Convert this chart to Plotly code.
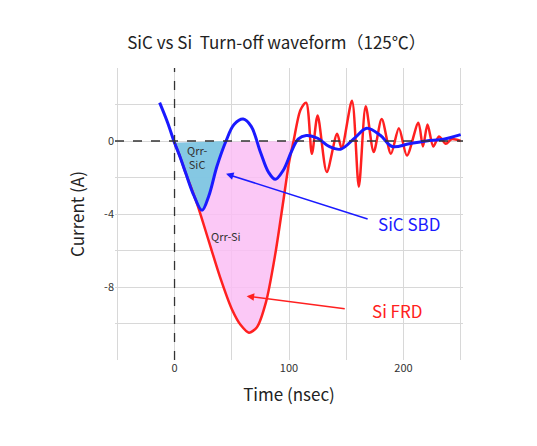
import plotly.graph_objects as go

sic_x = [-13, -6, 0, 5, 10, 17, 24, 30, 37, 45, 52, 60, 67, 75, 82, 88, 95, 102, 108, 115, 125, 135, 145, 158, 168, 180, 190, 205, 220, 235, 250]
sic_y = [2.1, 1.0, -0.1, -0.9, -1.8, -3.0, -3.8, -3.0, -1.4, 0.0, 0.9, 1.2, 0.8, -0.6, -1.7, -2.1, -1.6, -0.6, 0.1, 0.3, 0.15, -0.3, -0.45, 0.2, 0.7, 0.3, -0.3, -0.15, 0.0, 0.1, 0.35]

si_x = [0, 5, 10, 20, 30, 40, 50, 58, 65, 72, 80, 88, 95, 100, 104, 110, 115, 120, 125, 133, 142, 146, 155, 161, 167, 174, 181, 189, 196, 203, 213, 217, 221, 226, 231, 237, 242, 250]
si_y = [-0.1, -0.9, -1.8, -3.5, -5.5, -7.5, -9.2, -10.1, -10.5, -10.2, -8.8, -6.2, -3.3, -1.2, 0.0, 1.7, 2.1, -0.7, 1.4, -1.7, 0.4, -0.4, 2.2, -2.5, 1.9, -0.6, 1.2, -0.7, 0.7, -0.8, 1.0, -0.3, 0.9, -0.3, 0.25, -0.15, 0.1, 0.0]

sic_fill_n = 10
si_fill_n = 15

fig = go.Figure()
fig.add_trace(go.Scatter(x=si_x[:si_fill_n], y=si_y[:si_fill_n], mode="lines", line=dict(shape="spline", width=0),
                         fill="toself", fillcolor="rgba(250,190,245,0.85)", hoverinfo="skip"))
fig.add_trace(go.Scatter(x=sic_x[2:sic_fill_n], y=sic_y[2:sic_fill_n], mode="lines", line=dict(shape="spline", width=0),
                         fill="toself", fillcolor="rgba(120,200,225,0.9)", hoverinfo="skip"))
fig.add_trace(go.Scatter(x=si_x, y=si_y, mode="lines", line=dict(color="#ff2020", width=2.5, shape="spline", smoothing=0.8)))
fig.add_trace(go.Scatter(x=sic_x, y=sic_y, mode="lines", line=dict(color="#1a1aff", width=3, shape="spline", smoothing=1)))

fig.add_shape(type="line", x0=-52, x1=252, y0=0, y1=0, line=dict(color="#333", width=1.3, dash="dash"))
fig.add_shape(type="line", x0=0, x1=0, y0=-12, y1=4, line=dict(color="#333", width=1.3, dash="dash"))

fig.add_annotation(x=20, y=-0.9, text="Qrr-<br>SiC", showarrow=False, font=dict(size=11, color="#333"))
fig.add_annotation(x=45, y=-5.2, text="Qrr-Si", showarrow=False, font=dict(size=11, color="#333"))
fig.add_annotation(x=45, y=-1.8, ax=170, ay=-4.3, axref="x", ayref="y", text="", showarrow=True,
                   arrowcolor="#1a1aff", arrowhead=2, arrowwidth=1.5)
fig.add_annotation(x=63, y=-8.5, ax=150, ay=-9.2, axref="x", ayref="y", text="", showarrow=True,
                   arrowcolor="#ff2020", arrowhead=2, arrowwidth=1.5)
fig.add_annotation(x=205, y=-4.5, text="SiC SBD", showarrow=False, font=dict(size=17, color="#1a1aff"))
fig.add_annotation(x=195, y=-9.3, text="Si FRD", showarrow=False, font=dict(size=17, color="#ff2020"))

ticks = [-50, 0, 50, 100, 150, 200, 250]
fig.update_xaxes(range=[-52, 252], tickvals=ticks, ticktext=["", "0", "", "100", "", "200", ""], automargin=False,
                 showgrid=True, gridcolor="#d8d8d8", zeroline=False, ticks="",
                 title=dict(text="Time (nsec)", font=dict(size=17, color="#222")), tickfont=dict(size=11, color="#333"))
yt = [4, 2, 0, -2, -4, -6, -8, -10, -12]
fig.update_yaxes(range=[-12, 4], tickvals=yt, ticktext=["", "", "0", "", "-4", "", "-8", "", ""], automargin=False,
                 showgrid=True, gridcolor="#d8d8d8", zeroline=False, ticks="",
                 title=dict(text="Current (A)", font=dict(size=17, color="#222")), tickfont=dict(size=11, color="#333"))
fig.update_layout(width=537, height=446, margin=dict(l=107, r=82, t=60, b=94, autoexpand=False),
                  plot_bgcolor="white", paper_bgcolor="white", showlegend=False,
                  font=dict(family="Noto Sans CJK JP"),
                  title=dict(text="SiC vs Si  Turn-off waveform（125℃）", x=0.5, y=0.935, xanchor="center",
                             font=dict(size=17, color="#222")))
fig.write_html("out.html")
